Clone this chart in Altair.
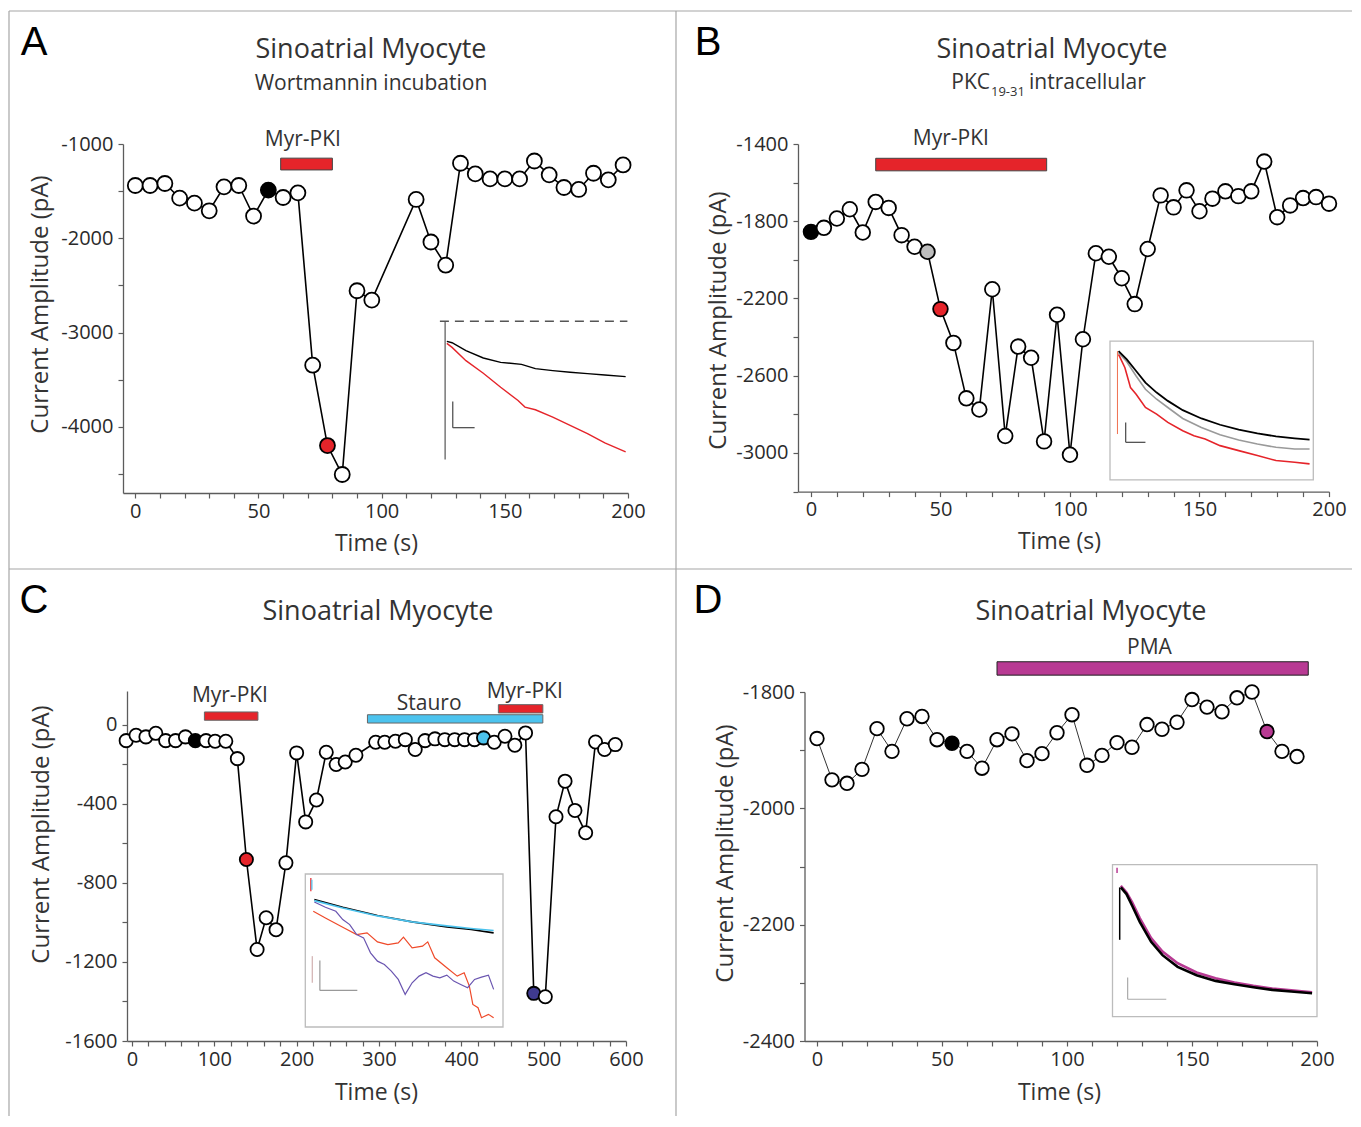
import altair as alt
import pandas as pd

FONT = "Open Sans"
TXT = "#333333"
AXC = "#5c5c5c"
RED = "#e5242a"
GREY = "#bdbdbd"
CYAN = "#4cc3ee"
PURPLE = "#3f3a8f"
MAGENTA = "#b83a93"

# ---------------- Panel A : Wortmannin incubation ----------------
a_time = [0, 6, 12, 18, 24, 30, 36, 42, 48, 54, 60, 66, 72, 78, 84, 90, 96,
          114, 120, 126, 132, 138, 144, 150, 156, 162, 168, 174, 180, 186, 192, 198]
a_curr = [-1440, -1440, -1419, -1574, -1627, -1708, -1454, -1440, -1764, -1489,
          -1567, -1518, -3345, -4197, -4504, -2556, -2655, -1588, -2039, -2285,
          -1204, -1317, -1370, -1370, -1370, -1180, -1327, -1461, -1482, -1310,
          -1380, -1222]
a_marked = {54: "black", 78: RED}
a_bars = [("Myr-PKI", 59, 80, -1150, -1275, RED)]
a_labels = [("Myr-PKI", 68, -962)]
# inset traces (arbitrary units)
a_ins_black_x = [995, 1010, 1050, 1100, 1150, 1210, 1250, 1300, 1350, 1400, 1450, 1510]
a_ins_black_y = [662, 666, 690, 712, 725, 731, 744, 750, 755, 759, 763, 768]
a_ins_red_x = [995, 1010, 1050, 1100, 1150, 1200, 1220, 1250, 1300, 1350, 1400, 1450, 1510]
a_ins_red_y = [668, 680, 720, 758, 800, 840, 860, 868, 890, 915, 940, 968, 995]

# ---------------- Panel B : PKC19-31 intracellular ----------------
b_time = [0, 5, 10, 15, 20, 25, 30, 35, 40, 45, 50, 55, 60, 65, 70, 75, 80, 85, 90,
          95, 100, 105, 110, 115, 120, 125, 130, 135, 140, 145, 150, 155, 160, 165,
          170, 175, 180, 185, 190, 195, 200]
b_curr = [-1855, -1834, -1786, -1738, -1858, -1700, -1731, -1872, -1932, -1958,
          -2255, -2430, -2717, -2775, -2152, -2912, -2449, -2507, -2940, -2284,
          -3009, -2411, -1966, -1984, -2095, -2229, -1944, -1666, -1728, -1640,
          -1748, -1683, -1645, -1670, -1645, -1491, -1779, -1718, -1680, -1675, -1709]
b_marked = {0: "black", 45: GREY, 50: RED}
b_bars = [("Myr-PKI", 25, 91, -1474, -1539, RED)]
b_labels = [("Myr-PKI", 54, -1372)]
b_ins_black_x = [928, 950, 975, 1000, 1030, 1060, 1100, 1150, 1200, 1250, 1300, 1350, 1400, 1440]
b_ins_black_y = [690, 715, 750, 785, 815, 840, 868, 893, 912, 927, 938, 947, 953, 957]
b_ins_grey_x = [928, 950, 975, 1000, 1030, 1060, 1100, 1150, 1200, 1250, 1300, 1350, 1400, 1440]
b_ins_grey_y = [695, 722, 765, 805, 835, 860, 893, 920, 942, 958, 970, 980, 985, 985]
b_ins_red_x = [928, 945, 960, 975, 1000, 1030, 1060, 1100, 1130, 1160, 1200, 1250, 1300, 1350, 1400, 1440]
b_ins_red_y = [700, 740, 800, 820, 860, 880, 905, 930, 945, 955, 975, 990, 1005, 1020, 1025, 1030]

# ---------------- Panel C : Stauro ----------------
c_time = [-7, 5, 17, 29, 41, 53, 65, 77, 90, 101, 114, 128, 139, 152, 163, 175, 187,
          200, 211, 224, 236, 248, 259, 272, 296, 307, 320, 332, 344, 356, 368, 380,
          392, 404, 416, 427, 440, 453, 465, 478, 488, 502, 515, 526, 538, 551, 563,
          574, 587]
c_curr = [-81, -54, -62, -44, -81, -81, -62, -81, -81, -84, -84, -172, -682, -1137,
          -977, -1037, -699, -143, -492, -381, -140, -202, -189, -155, -89, -89, -84,
          -76, -126, -81, -72, -76, -76, -76, -76, -67, -89, -59, -104, -42, -1359,
          -1376, -466, -286, -434, -547, -88, -126, -101]
c_marked = {77: "black", 139: RED, 427: CYAN, 488: PURPLE}
c_bars = [("Myr-PKI", 88, 153, 22, 64, RED),
          ("Stauro", 286, 499, 8, 50, CYAN),
          ("Myr-PKI", 445, 499, 59, 101, RED)]
c_labels = [("Myr-PKI", 119, 147), ("Stauro", 361, 104), ("Myr-PKI", 477, 166)]
c_ins_black_x = [618, 700, 800, 900, 1000, 1070, 1135]
c_ins_black_y = [685, 708, 733, 752, 767, 775, 785]
c_ins_cyan_x = [618, 700, 800, 900, 1000, 1070, 1135]
c_ins_cyan_y = [688, 710, 734, 752, 764, 772, 778]
c_ins_red_x = [615, 650, 700, 740, 770, 800, 830, 860, 875, 900, 930, 945, 965, 1000,
               1030, 1050, 1065, 1075, 1090, 1100, 1120, 1135]
c_ins_red_y = [720, 740, 768, 790, 785, 812, 820, 815, 798, 830, 825, 812, 860, 890,
               915, 905, 945, 1000, 1010, 1040, 1030, 1040]
c_ins_purple_x = [618, 650, 680, 700, 720, 740, 760, 780, 800, 820, 840, 860, 880, 900,
                  920, 940, 960, 980, 1000, 1020, 1040, 1060, 1080, 1100, 1120, 1135]
c_ins_purple_y = [692, 708, 720, 745, 760, 790, 800, 845, 870, 880, 900, 925, 970, 935,
                  915, 905, 915, 920, 912, 930, 940, 950, 925, 918, 912, 955]

# ---------------- Panel D : PMA ----------------
d_time = [0, 6, 12, 18, 24, 30, 36, 42, 48, 54, 60, 66, 72, 78, 84, 90, 96, 102, 108,
          114, 120, 126, 132, 138, 144, 150, 156, 162, 168, 174, 180, 186, 192]
d_curr = [-1880, -1951, -1957, -1933, -1863, -1902, -1846, -1842, -1882, -1888, -1902,
          -1931, -1882, -1872, -1918, -1906, -1870, -1839, -1926, -1909, -1887, -1895,
          -1856, -1864, -1852, -1813, -1826, -1834, -1810, -1800, -1868, -1902, -1911]
d_marked = {54: "black", 180: MAGENTA}
d_bars = [("PMA", 72, 196.5, -1748, -1771, MAGENTA)]
d_labels = [("PMA", 133, -1724)]
d_ins_mag_x = [950, 965, 980, 1000, 1030, 1060, 1100, 1150, 1200, 1250, 1300, 1350, 1400, 1455]
d_ins_mag_y = [700, 720, 750, 797, 857, 897, 932, 960, 977, 990, 1000, 1008, 1013, 1019]
d_ins_black_x = [950, 965, 980, 1000, 1030, 1060, 1100, 1150, 1200, 1250, 1300, 1350, 1400, 1455]
d_ins_black_y = [705, 725, 760, 808, 868, 908, 943, 968, 985, 995, 1004, 1012, 1017, 1022]

ONE = pd.DataFrame({"k": [0]})


def ptext(text, x, y, size, color=TXT, align="center", font=FONT, baseline="alphabetic"):
    return alt.Chart(ONE).mark_text(text=text, font=font, fontSize=size, color=color,
                                    align=align, baseline=baseline).encode(
        x=alt.value(x), y=alt.value(y))


def prule(x, y, x2, y2, color="#a6a6a6", width=1.2):
    return alt.Chart(ONE).mark_rule(color=color, strokeWidth=width).encode(
        x=alt.value(x), y=alt.value(y), x2=alt.value(x2), y2=alt.value(y2))


def panel(cfg):
    W, H = cfg["W"], cfg["H"]
    xr, yr = cfg["xr"], cfg["yr"]
    xs = alt.Scale(domain=cfg["xdom"], range=[xr[0], xr[1]], nice=False, zero=False)
    ys = alt.Scale(domain=cfg["ydom"], range=[yr[1], yr[0]], nice=False, zero=False)
    common = dict(domainColor=AXC, domainWidth=1.3, tickColor=AXC, tickWidth=1.2,
                  tickSize=5, grid=False, labelFont=FONT, labelFontSize=20,
                  labelColor="#2a2a2a", labelOverlap=False, labelFlush=False, labelBound=False,
                  titleFont=FONT, titleFontWeight="normal",
                  titleColor=TXT, titleAlign="center", titleBaseline="middle")
    xax = alt.Axis(orient="bottom", offset=-(H - yr[1]), values=cfg["xticks"],
                   labelExpr=f"datum.value % {cfg['xstep']} == 0 ? '' + datum.value : ''",
                   title="Time (s)", titleX=cfg["xtitle"][0], titleFontSize=23,
                   titleY=cfg["xtitle"][1] - yr[1], labelPadding=3, **common)
    yax = alt.Axis(orient="left", offset=-xr[0], values=cfg["yticks"],
                   labelExpr=cfg["ylabel"], title="Current Amplitude (pA)",
                   titleX=cfg["ytitle"][0] - xr[0], titleY=cfg["ytitle"][1], titleFontSize=24,
                   titleAngle=270, labelPadding=5, **common)
    X = alt.X("t:Q", scale=xs, axis=xax)
    Y = alt.Y("v:Q", scale=ys, axis=yax)

    pts = pd.DataFrame({"t": cfg["time"], "v": cfg["curr"]})
    pts["f"] = [cfg["marked"].get(t, "white") for t in cfg["time"]]
    bars = pd.DataFrame(cfg["bars"], columns=["name", "t", "t2", "v", "v2", "c"])
    labs = pd.DataFrame(cfg["labels"], columns=["name", "t", "v"])

    line = alt.Chart(pts).mark_line(color=cfg["linecolor"], strokeWidth=cfg["lw"]).encode(x=X, y=Y)
    dots = alt.Chart(pts).mark_circle(size=cfg["size"], stroke="black", strokeWidth=1.8,
                                      opacity=1).encode(
        x=X, y=Y, fill=alt.Fill("f:N", scale=None))
    bar = alt.Chart(bars).mark_rect(stroke=cfg["barstroke"], strokeWidth=1).encode(
        x=X, x2="t2:Q", y=Y, y2="v2:Q", fill=alt.Fill("c:N", scale=None))
    lab = alt.Chart(labs).mark_text(font=FONT, fontSize=21, color=TXT, baseline="middle").encode(
        x=X, y=Y, text="name:N")

    deco = [ptext(cfg["letter"], cfg["letterpos"][0], cfg["letterpos"][1], 40,
                  color="black", font="Liberation Sans")]
    deco += [ptext(t, x, y, s, align=a) for (t, x, y, s, a) in cfg["texts"]]
    deco += [prule(*r) for r in cfg.get("rules", [])]

    main = alt.layer(line, dots, bar, lab, *deco)

    # inset
    ins = cfg["inset"]
    ixs = alt.Scale(domain=ins["xdom"], range=ins["xr"], nice=False, zero=False)
    iys = alt.Scale(domain=ins["ydom"], range=ins["yr"], nice=False, zero=False)
    IX = alt.X("ix:Q", scale=ixs, axis=None)
    IY = alt.Y("iy:Q", scale=iys, axis=None)
    ilayers = []
    if ins.get("box"):
        bx = pd.DataFrame({"ix": [ins["xdom"][0]], "ix2": [ins["xdom"][1]],
                           "iy": [ins["ydom"][0]], "iy2": [ins["ydom"][1]]})
        ilayers.append(alt.Chart(bx).mark_rect(fill="white", stroke="#bcbcbc", strokeWidth=1.3).encode(
            x=IX, x2="ix2:Q", y=IY, y2="iy2:Q"))
    for seg in ins["segments"]:
        (x1, y1, x2, y2, col, w, dash) = seg
        sd = pd.DataFrame({"ix": [x1], "iy": [y1], "ix2": [x2], "iy2": [y2]})
        kw = dict(color=col, strokeWidth=w)
        if dash:
            kw["strokeDash"] = [9, 6]
        ilayers.append(alt.Chart(sd).mark_rule(**kw).encode(x=IX, y=IY, x2="ix2:Q", y2="iy2:Q"))
    for (tx, ty, col, w) in ins["traces"]:
        td = pd.DataFrame({"ix": tx, "iy": ty, "o": list(range(len(tx)))})
        ilayers.append(alt.Chart(td).mark_line(color=col, strokeWidth=w).encode(
            x=IX, y=IY, order="o:Q"))
    inset = alt.layer(*ilayers)

    return alt.layer(main, inset).resolve_scale(x="independent", y="independent").properties(
        width=W, height=H)


cfgA = dict(W=667, H=558, xr=[114, 619], yr=[133, 482], xdom=[-5, 200], ydom=[-4700, -1000],
            xticks=list(range(0, 201, 10)), xstep=50, yticks=list(range(-4500, -999, 500)),
            ylabel="datum.value % 1000 == 0 ? '' + datum.value : ''",
            xtitle=(367, 532), ytitle=(31, 293),
            time=a_time, curr=a_curr, marked=a_marked, bars=a_bars, labels=a_labels,
            linecolor="black", lw=1.6, size=225, barstroke="#444",
            letter="A", letterpos=(25, 44),
            texts=[("Sinoatrial Myocyte", 362, 47, 27, "center"),
                   ("Wortmannin incubation", 362, 79, 21, "center")],
            rules=[(0, 0, 1343, 0), (0, 0, 0, 1105), (667, 0, 667, 1105), (0, 558, 1343, 558)],
            inset=dict(xdom=[975, 1515], ydom=[601, 1018], xr=[430.9, 618.4], yr=[310.2, 448.5],
                       box=False,
                       segments=[(975, 601, 1515, 601, "#555555", 1.4, True),
                                 (990, 601, 990, 1018, "#555555", 1.2, False),
                                 (1012, 843, 1012, 922, "#555555", 1.3, False),
                                 (1012, 922, 1075, 922, "#555555", 1.3, False)],
                       traces=[(a_ins_red_x, a_ins_red_y, RED, 1.4),
                               (a_ins_black_x, a_ins_black_y, "black", 1.4)]))

cfgB = dict(W=676, H=558, xr=[122, 653], yr=[133, 480.6], xdom=[-5, 200], ydom=[-3200, -1400],
            xticks=list(range(0, 201, 10)), xstep=50, yticks=list(range(-3200, -1399, 200)),
            ylabel="(datum.value + 1400) % 400 == 0 ? '' + datum.value : ''",
            xtitle=(383, 530), ytitle=(42, 309),
            time=b_time, curr=b_curr, marked=b_marked, bars=b_bars, labels=b_labels,
            linecolor="black", lw=1.6, size=215, barstroke="#444",
            letter="B", letterpos=(32, 44),
            texts=[("Sinoatrial Myocyte", 376, 47, 27, "center"),
                   ("PKC", 314, 78, 21, "right"),
                   ("19-31", 315, 85, 13, "left"),
                   ("intracellular", 353, 78, 21, "left")],
            inset=dict(xdom=[905, 1450], ydom=[660, 1078], xr=[434, 637.3], yr=[330.2, 468.8],
                       box=True,
                       segments=[(925, 690, 925, 940, "#f07050", 1.0, False),
                                 (947, 905, 947, 965, "#555555", 1.3, False),
                                 (947, 965, 1000, 965, "#555555", 1.3, False)],
                       traces=[(b_ins_red_x, b_ins_red_y, RED, 1.6),
                               (b_ins_grey_x, b_ins_grey_y, "#9a9a9a", 1.6),
                               (b_ins_black_x, b_ins_black_y, "black", 1.8)]))

cfgC = dict(W=667, H=540, xr=[118, 617], yr=[122, 472], xdom=[-6, 600], ydom=[-1600, 170],
            xticks=list(range(0, 601, 20)), xstep=100, yticks=list(range(-1600, 1, 200)),
            ylabel="datum.value % 400 == 0 ? '' + datum.value : ''",
            xtitle=(367, 523), ytitle=(32, 265),
            time=c_time, curr=c_curr, marked=c_marked, bars=c_bars, labels=c_labels,
            linecolor="black", lw=1.6, size=175, barstroke="#666",
            letter="C", letterpos=(25, 44),
            texts=[("Sinoatrial Myocyte", 369, 51, 27, "center")],
            inset=dict(xdom=[592, 1162], ydom=[608, 1068], xr=[296.3, 494], yr=[305, 458],
                       box=True,
                       segments=[(608, 620, 608, 660, RED, 1.2, False),
                                 (611, 625, 611, 655, CYAN, 1.2, False),
                                 (612, 855, 612, 935, "#c8a0a0", 1.0, False),
                                 (634, 868, 634, 958, "#999999", 1.2, False),
                                 (634, 958, 742, 958, "#999999", 1.2, False)],
                       traces=[(c_ins_red_x, c_ins_red_y, "#ef4a2a", 1.2),
                               (c_ins_purple_x, c_ins_purple_y, "#6a55b0", 1.2),
                               (c_ins_black_x, c_ins_black_y, "black", 1.6),
                               (c_ins_cyan_x, c_ins_cyan_y, CYAN, 1.6)]))

cfgD = dict(W=676, H=540, xr=[128.5, 641], yr=[123, 472], xdom=[-5, 200], ydom=[-2400, -1800],
            xticks=list(range(0, 201, 10)), xstep=50, yticks=list(range(-2400, -1799, 100)),
            ylabel="datum.value % 200 == 0 ? '' + datum.value : ''",
            xtitle=(383, 523), ytitle=(49, 284),
            time=d_time, curr=d_curr, marked=d_marked, bars=d_bars, labels=d_labels,
            linecolor="#333333", lw=1.0, size=185, barstroke="#222",
            letter="D", letterpos=(32, 44),
            texts=[("Sinoatrial Myocyte", 415, 51, 27, "center")],
            inset=dict(xdom=[928, 1468], ydom=[637, 1092], xr=[436.5, 641], yr=[295.7, 447.6],
                       box=True,
                       segments=[(940, 646, 940, 662, MAGENTA, 1.5, False),
                                 (947, 705, 947, 862, "black", 1.5, False),
                                 (968, 975, 968, 1040, "#aaaaaa", 1.2, False),
                                 (968, 1040, 1070, 1040, "#aaaaaa", 1.2, False)],
                       traces=[(d_ins_mag_x, d_ins_mag_y, MAGENTA, 2.6),
                               (d_ins_black_x, d_ins_black_y, "black", 2.6)]))

chart = alt.concat(panel(cfgA), panel(cfgB), panel(cfgC), panel(cfgD),
                   columns=2, spacing=0, bounds="flush").properties(
    padding={"left": 0, "top": 2, "right": 0, "bottom": 0}
).configure_view(stroke=None)

chart.save("out.html", embed_options={"renderer": "svg", "actions": False})
